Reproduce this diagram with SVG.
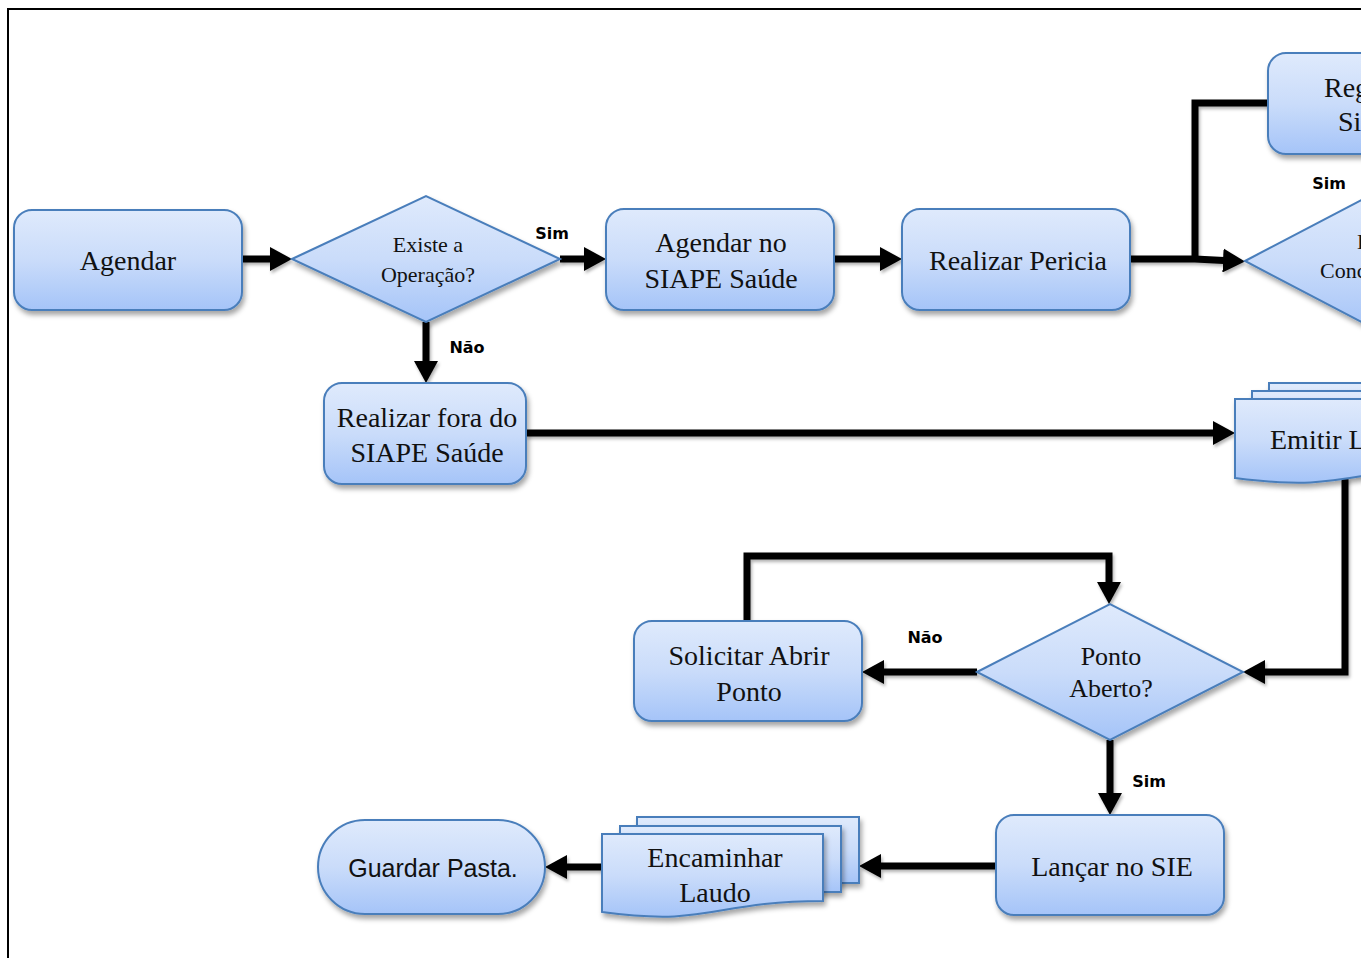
<svg xmlns="http://www.w3.org/2000/svg" width="1361" height="958" viewBox="0 0 1361 958">
<defs>
<linearGradient id="g" x1="0" y1="0" x2="0" y2="1">
<stop offset="0" stop-color="#dfeafc"/>
<stop offset="0.5" stop-color="#cadcfa"/>
<stop offset="1" stop-color="#a5c4f8"/>
</linearGradient>
<filter id="sh" x="-10%" y="-10%" width="130%" height="140%">
<feDropShadow dx="2" dy="4" stdDeviation="2.5" flood-color="#000" flood-opacity="0.35"/>
</filter>
<filter id="csh" x="-10%" y="-10%" width="130%" height="130%">
<feDropShadow dx="1.5" dy="2.5" stdDeviation="1.5" flood-color="#000" flood-opacity="0.3"/>
</filter>
<marker id="ah" viewBox="0 0 22 24" markerWidth="22" markerHeight="24" refX="1" refY="12" orient="auto" markerUnits="userSpaceOnUse">
<path d="M0,0 L22,12 L0,24 Z" fill="#000"/>
</marker>
</defs>
<style>
.n{fill:url(#g);stroke:#4a7ebb;stroke-width:2;filter:url(#sh)}
.t{font-family:"Liberation Serif","Times New Roman",serif;font-size:28px;fill:#111;text-anchor:middle}
.td{font-family:"Liberation Serif","Times New Roman",serif;font-size:22px;fill:#111;text-anchor:middle}
.ts{font-family:"Liberation Sans",Arial,sans-serif;font-size:25px;fill:#111;text-anchor:middle}
.lb{font-family:"DejaVu Sans",Verdana,sans-serif;font-weight:bold;font-size:16px;fill:#000;text-anchor:middle}
.st{text-anchor:start}
.c{fill:none;stroke:#000;stroke-width:7;stroke-linejoin:miter}
.ca{marker-end:url(#ah)}
</style>
<rect x="0" y="0" width="1361" height="958" fill="#fff"/>
<path d="M8,958 V9 H1361" fill="none" stroke="#000" stroke-width="2"/>

<g id="connectors" filter="url(#csh)">
<path class="c ca" d="M242,259 H271"/>
<path class="c ca" d="M560,259 H585"/>
<path class="c ca" d="M834,259 H881"/>
<path class="c ca" d="M1130,259 H1195 L1224,260.5"/>
<path class="c" d="M1268,103 H1195 V262"/>
<path class="c ca" d="M426,322 V362"/>
<path class="c ca" d="M526,433 H1214"/>
<path class="c ca" d="M1345,478 V672 H1264"/>
<path class="c ca" d="M747,621 V556 H1109 V583"/>
<path class="c ca" d="M977,672 H883"/>
<path class="c ca" d="M1110,740 V794"/>
<path class="c ca" d="M996,866 H880"/>
<path class="c ca" d="M602,867 H566"/>
</g>

<g id="lbl-sim1">
<rect x="528" y="223" width="46" height="27" fill="#fff"/>
<text class="lb" x="552" y="239">Sim</text>
</g>
<g id="lbl-nao1"><text class="lb" x="467" y="353">Não</text></g>
<g id="lbl-sim2"><text class="lb" x="1329" y="189">Sim</text></g>
<g id="lbl-nao2"><text class="lb" x="925" y="643">Não</text></g>
<g id="lbl-sim3"><text class="lb" x="1149" y="787">Sim</text></g>

<g id="agendar">
<rect class="n" x="14" y="210" width="228" height="100" rx="18"/>
<text class="t" x="128" y="270">Agendar</text>
</g>

<g id="existe">
<path class="n" d="M292,259 L426,196 L560,259 L426,322 Z"/>
<text class="td" x="428" y="252">Existe a</text>
<text class="td" x="428" y="282">Operação?</text>
</g>

<g id="agendar-siape">
<rect class="n" x="606" y="209" width="228" height="101" rx="18"/>
<text class="t" x="721" y="252">Agendar no</text>
<text class="t" x="721" y="288">SIAPE Saúde</text>
</g>

<g id="realizar-pericia">
<rect class="n" x="902" y="209" width="228" height="101" rx="18"/>
<text class="t" x="1018" y="270">Realizar Pericia</text>
</g>

<g id="registrar">
<rect class="n" x="1268" y="53" width="228" height="101" rx="18"/>
<text class="t st" x="1324" y="97">Registrar no</text>
<text class="t st" x="1338" y="131">Sistema</text>
</g>

<g id="conclusao">
<path class="n" d="M1245,261 L1379,191 L1513,261 L1379,331 Z"/>
<text class="td st" x="1357" y="249">Existe</text>
<text class="td st" x="1320" y="278">Concordância?</text>
</g>

<g id="realizar-fora">
<rect class="n" x="324" y="383" width="202" height="101" rx="18"/>
<text class="t" x="427" y="427">Realizar fora do</text>
<text class="t" x="427" y="462">SIAPE Saúde</text>
</g>

<g id="emitir-laudo">
<rect class="n" x="1269" y="383" width="230" height="80"/>
<rect class="n" x="1252" y="391" width="230" height="80"/>
<path class="n" d="M1235,399 H1465 V467 C1350,467 1350,493 1235,478 Z"/>
<text class="t st" x="1270" y="449">Emitir Laudo</text>
</g>

<g id="ponto-aberto">
<path class="n" d="M977,672 L1110,604 L1243,672 L1110,740 Z"/>
<text class="td" x="1111" y="665" style="font-size:26px">Ponto</text>
<text class="td" x="1111" y="697" style="font-size:26px">Aberto?</text>
</g>

<g id="solicitar">
<rect class="n" x="634" y="621" width="228" height="100" rx="18"/>
<text class="t" x="749" y="665">Solicitar Abrir</text>
<text class="t" x="749" y="701">Ponto</text>
</g>

<g id="lancar">
<rect class="n" x="996" y="815" width="228" height="100" rx="18"/>
<text class="t" x="1112" y="876">Lançar no SIE</text>
</g>

<g id="encaminhar">
<rect class="n" x="637" y="817" width="222" height="66"/>
<rect class="n" x="620" y="826" width="221" height="66"/>
<path class="n" d="M602,834 H823 V901 C712,901 712,927 602,912 Z"/>
<text class="t" x="715" y="867">Encaminhar</text>
<text class="t" x="715" y="902">Laudo</text>
</g>

<g id="guardar">
<rect class="n" x="318" y="820" width="227" height="94" rx="47"/>
<text class="ts" x="433" y="877">Guardar Pasta.</text>
</g>
</svg>
